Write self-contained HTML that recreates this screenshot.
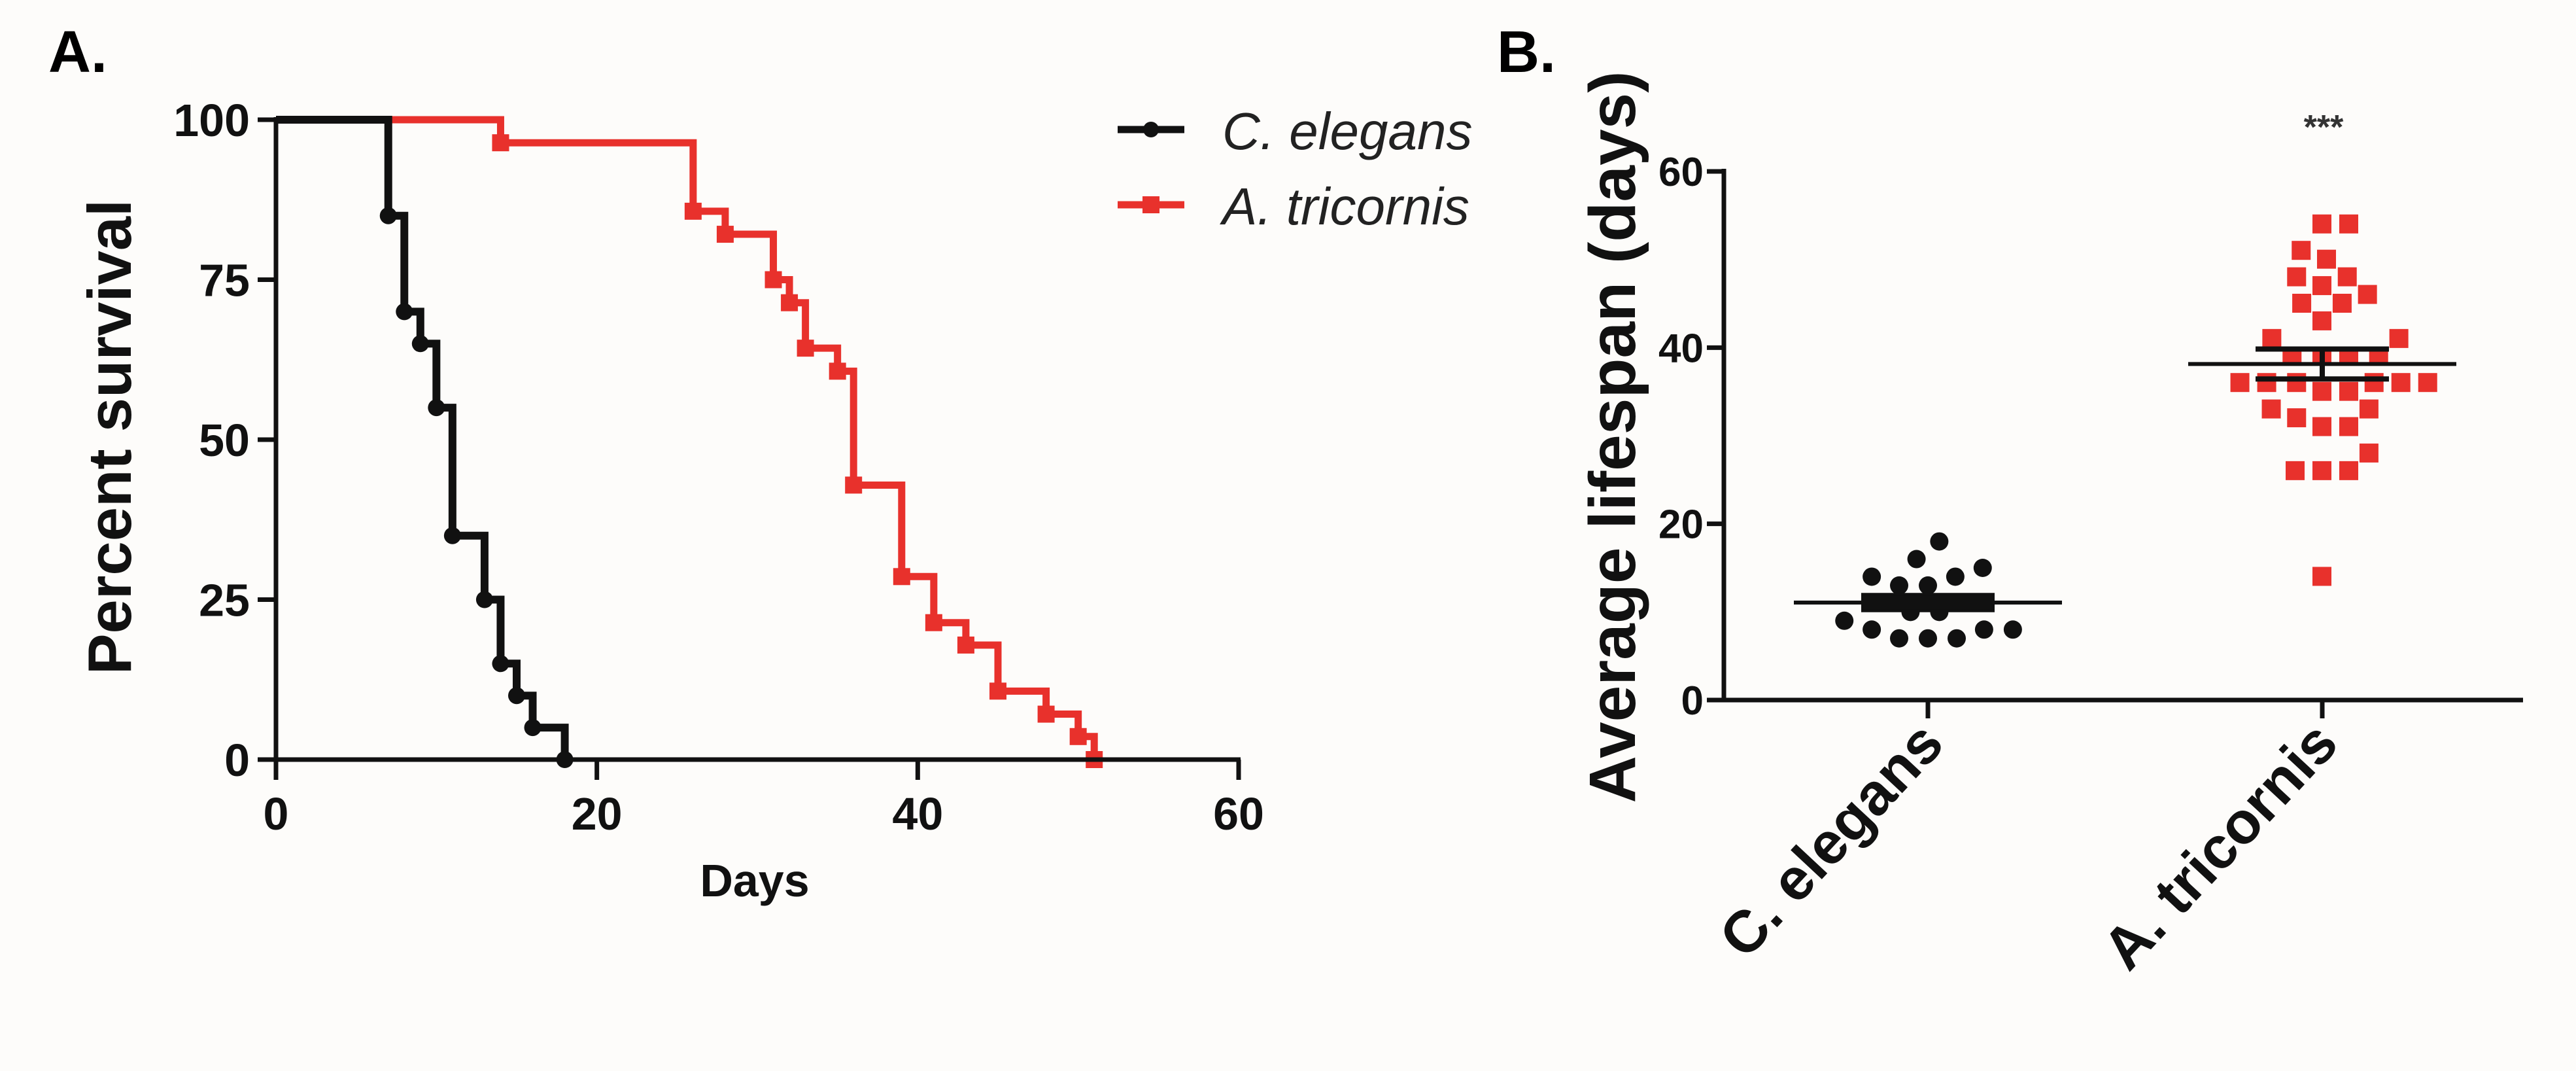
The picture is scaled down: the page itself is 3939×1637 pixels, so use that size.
<!DOCTYPE html>
<html><head><meta charset="utf-8"><style>
html,body{margin:0;padding:0;background:#fdfcfa;}
svg{display:block;font-family:"Liberation Sans",Arial,sans-serif;}
</style></head><body>
<svg id="fig" width="3939" height="1637" viewBox="0 0 3939 1637" xmlns="http://www.w3.org/2000/svg">
<rect x="0" y="0" width="3939" height="1637" fill="#fdfcfa"/>
<text x="74" y="110" font-size="90" font-weight="bold">A.</text>
<text x="2289" y="110" font-size="90" font-weight="bold">B.</text>
<g id="pa"></g>
<g id="pb"></g>
</svg>
<script>
// Panel A data
const elegansDays = [7, 8, 9, 10, 11, 13, 14, 15, 16, 18];
const elegansSurv = [85, 70, 65, 55, 35, 25, 15, 10, 5, 0];
const tricornisDays = [14, 26, 28, 31, 32, 33, 35, 36, 39, 41, 43, 45, 48, 50, 51];
const tricornisSurv = [96.4, 85.7, 82.1, 75, 71.4, 64.3, 60.7, 42.9, 28.6, 21.4, 17.9, 10.7, 7.1, 3.6, 0];
const xTicksA = [0, 20, 40, 60];
const yTicksA = [0, 25, 50, 75, 100];
// Panel B data
const categoriesB = ["C. elegans", "A. tricornis"];
const elegansLifespan = [18,16,15,14,14,13,13,10,10,9,8,8,8,7,7,7];
const tricornisLifespan = [54,54,51,50,48,48,46,47,45,45,43,41,41,39,39,39,39,36,36,36,36,36,36,35,35,33,33,32,31,31,28,26,26,26,14];
const yTicksB = [0, 20, 40, 60];
const semB = [0.8, 1.7];

const NS = "http://www.w3.org/2000/svg";
function mk(parent, tag, attrs){ const e=document.createElementNS(NS,tag); for(const k in attrs) e.setAttribute(k,attrs[k]); parent.appendChild(e); return e; }

// ---------- Panel A ----------
const pa = document.getElementById('pa');
const ax0=422, ax1=1894, ay0=1161, ay1=183;
const xA = d => ax0 + (d/60)*(ax1-ax0);
const yA = v => ay0 - (v/100)*(ay0-ay1);

function stepPath(days, surv){
  let d = `M${xA(0)},${yA(100)}`;
  for(let i=0;i<days.length;i++){ d += ` H${xA(days[i])} V${yA(surv[i])}`; }
  return d;
}
let e;
e = mk(pa,'path',{d:stepPath(tricornisDays,tricornisSurv),fill:'none',stroke:'#e8312c','stroke-width':11});


e = mk(pa,'path',{d:stepPath(elegansDays,elegansSurv),fill:'none',stroke:'#111','stroke-width':12});


tricornisDays.forEach((d,i)=>{
  const m = mk(pa,'rect',{x:xA(d)-13,y:yA(tricornisSurv[i])-13,width:26,height:26,fill:'#e8312c'});
  
  
});
elegansDays.forEach((d,i)=>{
  const m = mk(pa,'circle',{cx:xA(d),cy:yA(elegansSurv[i]),r:13,fill:'#111'});
  
  
});
e = mk(pa,'line',{x1:ax0,y1:ay1-4,x2:ax0,y2:ay0+31,stroke:'#111','stroke-width':7});


e = mk(pa,'line',{x1:ax0-4,y1:ay0,x2:ax1+3,y2:ay0,stroke:'#111','stroke-width':7});


xTicksA.forEach(t=>{
  const l=mk(pa,'line',{x1:xA(t),y1:ay0,x2:xA(t),y2:ay0+31,stroke:'#111','stroke-width':7});
  
  
  const tx=mk(pa,'text',{x:xA(t),y:1268,'font-size':70,'font-weight':'bold','text-anchor':'middle',fill:'#111'});
  tx.textContent=t;
  
  
});
yTicksA.forEach(t=>{
  const l=mk(pa,'line',{x1:ax0-28,y1:yA(t),x2:ax0,y2:yA(t),stroke:'#111','stroke-width':7});
  
  
  const tx=mk(pa,'text',{x:382,y:yA(t)+25,'font-size':70,'font-weight':'bold','text-anchor':'end',fill:'#111'});
  tx.textContent=t;
  
  
});
e = mk(pa,'text',{x:1154,y:1370,'font-size':70,'font-weight':'bold','text-anchor':'middle',fill:'#111'});
e.textContent='Days';


e = mk(pa,'text',{x:0,y:0,'font-size':94,'font-weight':'bold','text-anchor':'middle',fill:'#111',transform:'translate(200,668) rotate(-90)'});
e.textContent='Percent survival';


e = mk(pa,'line',{x1:1709,y1:198,x2:1811,y2:198,stroke:'#111','stroke-width':11});


e = mk(pa,'circle',{cx:1760,cy:198,r:12,fill:'#111'});


e = mk(pa,'text',{x:1869,y:228,'font-size':80,'font-style':'italic',fill:'#222'});
e.textContent='C. elegans';


e = mk(pa,'line',{x1:1709,y1:313,x2:1811,y2:313,stroke:'#e8312c','stroke-width':11});


e = mk(pa,'rect',{x:1747,y:300,width:26,height:26,fill:'#e8312c'});


e = mk(pa,'text',{x:1869,y:343,'font-size':80,'font-style':'italic',fill:'#222'});
e.textContent='A. tricornis';



// ---------- Panel B ----------
const pb = document.getElementById('pb');
const bx0=2636, bx1=3858, by0=1070, by1=262;
const yB = v => by0 - (v/60)*(by0-by1);
const catX = [2948, 3551];
const xB = i => catX[i];
function swarm(vals, D){
  const sorted = vals.slice().sort((a,b)=>a-b);
  const placed=[];
  sorted.forEach(v=>{
    const y=yB(v);
    const near=placed.filter(p=>Math.abs(p.y-y)<D);
    const cands=[0];
    near.forEach(p=>{ const w=Math.sqrt(D*D-(p.y-y)*(p.y-y)); cands.push(p.x+w, p.x-w); });
    cands.sort((a,b)=>Math.abs(a)-Math.abs(b));
    let best=0;
    for(const c of cands){
      if(near.every(p=>Math.hypot(p.x-c,p.y-y)>=D-0.01)){ best=c; break; }
    }
    placed.push({x:best,y:y,v:v});
  });
  return placed;
}
const series=[elegansLifespan,tricornisLifespan];
series.forEach((vals,ci)=>{
  const pts=swarm(vals, ci===0?44:41);
  pts.forEach(p=>{
    let m;
    if(ci===0){ m=mk(pb,'circle',{cx:xB(0)+p.x,cy:p.y,r:14,fill:'#111'});  }
    else { m=mk(pb,'rect',{x:xB(1)+p.x-15,y:p.y-15,width:29,height:29,fill:'#e8312c'});  }
    
  });
  const mean=vals.reduce((a,b)=>a+b,0)/vals.length;
  const ml=mk(pb,'line',{x1:xB(ci)-205,y1:yB(mean),x2:xB(ci)+205,y2:yB(mean),stroke:'#111','stroke-width':6});
  
  
  const s=semB[ci];
  const g=mk(pb,'path',{d:`M${xB(ci)-102},${yB(mean+s)} H${xB(ci)+102} M${xB(ci)-102},${yB(mean-s)} H${xB(ci)+102} M${xB(ci)},${yB(mean+s)} V${yB(mean-s)}`,stroke:'#111','stroke-width':8,fill:'none'});
  
  
  if(ci===0){
    const r=mk(pb,'rect',{x:xB(ci)-102,y:yB(mean+s),width:204,height:yB(mean-s)-yB(mean+s),fill:'#111'});
    
    
  }
});
e = mk(pb,'line',{x1:bx0,y1:by1-4,x2:bx0,y2:by0+3,stroke:'#111','stroke-width':7});


e = mk(pb,'line',{x1:bx0-4,y1:by0,x2:bx1,y2:by0,stroke:'#111','stroke-width':7});


yTicksB.forEach(t=>{
  const l=mk(pb,'line',{x1:bx0-26,y1:yB(t),x2:bx0,y2:yB(t),stroke:'#111','stroke-width':7});
  
  
  const tx=mk(pb,'text',{x:2605,y:yB(t)+22,'font-size':62,'font-weight':'bold','text-anchor':'end',fill:'#111'});
  tx.textContent=t;
  
  
});
categoriesB.forEach((c,i)=>{
  const l=mk(pb,'line',{x1:xB(i),y1:by0,x2:xB(i),y2:by0+28,stroke:'#111','stroke-width':7});
  
  
  const tx=mk(pb,'text',{x:0,y:0,'font-size':90,'font-weight':'bold','text-anchor':'end',fill:'#111',transform:`translate(${xB(i)+28},1140) rotate(-47)`});
  tx.textContent=c;
  
  
});
e = mk(pb,'text',{x:0,y:0,'font-size':100,'font-weight':'bold','text-anchor':'middle',fill:'#111',transform:'translate(2500,668) rotate(-90)'});
e.textContent='Average lifespan (days)';


e = mk(pb,'text',{x:3553,y:212,'font-size':52,'font-weight':'bold','text-anchor':'middle',fill:'#333'});
e.textContent='***';


</script>
</body></html>
